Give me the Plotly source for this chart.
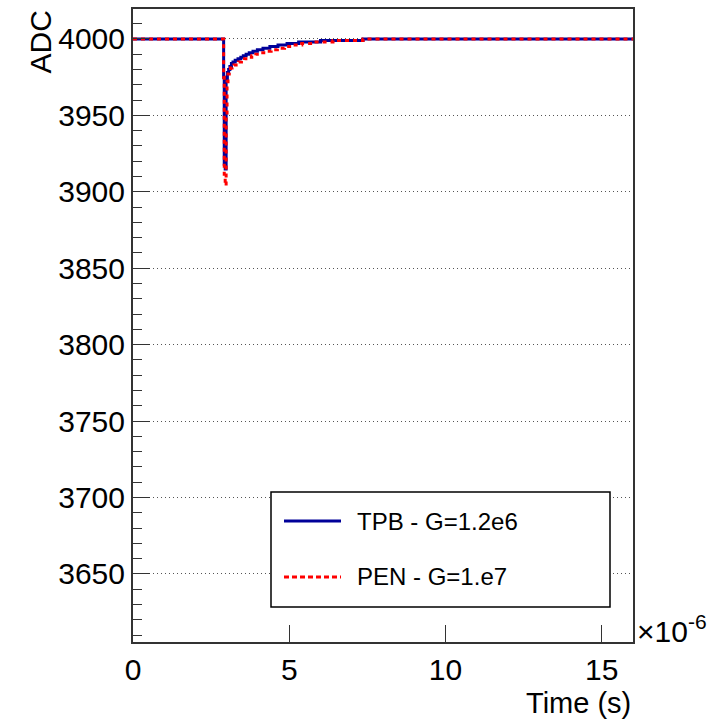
import plotly.graph_objects as go

# Time in microseconds (axis shows x10^-6 s)
blue_t = [0, 2.90, 2.92, 2.95, 2.98, 3.02, 3.06, 3.10, 3.15, 3.20, 3.27, 3.36,
          3.45, 3.53, 3.62, 3.72, 3.84, 3.98, 4.16, 4.38, 4.64, 4.93, 5.30, 6.00, 7.36, 16.0]
blue_v = [4000, 3975, 3918, 3915, 3974, 3978, 3980, 3982, 3984, 3985, 3986, 3987,
          3988, 3989, 3990, 3991, 3992, 3993, 3994, 3995, 3996, 3997, 3998, 3999, 4000, 4000]

red_t = [0, 2.90, 2.92, 2.95, 2.98, 3.01, 3.04, 3.08, 3.12, 3.17, 3.23, 3.30, 3.38,
         3.47, 3.57, 3.68, 3.80, 3.93, 4.08, 4.24, 4.42, 4.62, 4.85, 5.10, 5.40, 5.80,
         6.40, 7.36, 16.0]
red_v = [4000, 3975, 3910, 3904, 3950, 3972, 3977, 3979, 3981, 3982, 3983, 3984, 3985,
         3986, 3987, 3988, 3989, 3990, 3991, 3992, 3993, 3994, 3995, 3996, 3997, 3998,
         3999, 4000, 4000]

series_names = ["TPB - G=1.2e6", "PEN - G=1.e7"]
blue_col = "#000099"
red_col = "#ff0000"

x_ticks = [0, 5, 10, 15]
y_ticks = [3650, 3700, 3750, 3800, 3850, 3900, 3950, 4000]

FONT = "Liberation Sans, Arial, sans-serif"

fig = go.Figure()
fig.add_trace(go.Scatter(x=blue_t, y=blue_v, mode="lines", line_shape="hv",
                         line=dict(color=blue_col, width=3), name=series_names[0],
                         showlegend=False))
fig.add_trace(go.Scatter(x=red_t, y=red_v, mode="lines", line_shape="hv",
                         line=dict(color=red_col, width=3, dash="4px,4px"),
                         name=series_names[1], showlegend=False))

fig.update_layout(
    width=726, height=723,
    margin=dict(l=133, r=93, t=9, b=81, autoexpand=False),
    paper_bgcolor="white", plot_bgcolor="white",
    font=dict(family=FONT, size=30, color="black"),
)
fig.update_xaxes(
    range=[0, 16], tickvals=x_ticks, ticktext=[str(v) for v in x_ticks],
    showgrid=False, zeroline=False,
    showline=True, mirror=True, linecolor="#333333", linewidth=2,
    ticks="inside", ticklen=17, tickcolor="#333333", tickwidth=1,
    tickfont=dict(size=30),
)
fig.update_yaxes(
    range=[3605.5, 4019.6], tickvals=y_ticks, ticktext=[str(v) for v in y_ticks],
    showgrid=True, gridcolor="#555555", griddash="1px,3px", gridwidth=1,
    zeroline=False,
    showline=True, mirror=True, linecolor="#333333", linewidth=2,
    ticks="inside", ticklen=17, tickcolor="#333333", tickwidth=1,
    minor=dict(dtick=10, ticks="inside", ticklen=9, tickcolor="#333333", tickwidth=1, showgrid=False),
    tickfont=dict(size=30),
)

# Axis titles (ROOT style: aligned to axis ends)
fig.add_annotation(text="ADC", xref="paper", yref="paper", x=-0.186, y=1.0,
                   xanchor="center", yanchor="top", textangle=-90, showarrow=False,
                   font=dict(size=30))
fig.add_annotation(text="Time (s)", xref="paper", yref="paper", x=1.0, y=-0.097,
                   xanchor="right", yanchor="middle", showarrow=False,
                   font=dict(size=29))
fig.add_annotation(text="×10<sup>-6</sup>", xref="paper", yref="paper", x=1.004, y=0.02,
                   xanchor="left", yanchor="middle", showarrow=False,
                   font=dict(size=30))

# Legend box
fig.add_shape(type="rect", xref="paper", yref="paper", x0=0.276, x1=0.954, y0=0.0553, y1=0.237,
              line=dict(color="black", width=1.5), fillcolor="white", layer="above")
fig.add_shape(type="line", xref="paper", yref="paper", x0=0.302, x1=0.416, y0=0.191, y1=0.191,
              line=dict(color=blue_col, width=3), layer="above")
fig.add_shape(type="line", xref="paper", yref="paper", x0=0.302, x1=0.416, y0=0.1027, y1=0.1027,
              line=dict(color=red_col, width=3, dash="5px,3px"), layer="above")
fig.add_annotation(text=series_names[0], xref="paper", yref="paper", x=0.444, y=0.191,
                   xanchor="left", yanchor="middle", showarrow=False, font=dict(size=24))
fig.add_annotation(text=series_names[1], xref="paper", yref="paper", x=0.444, y=0.1027,
                   xanchor="left", yanchor="middle", showarrow=False, font=dict(size=24))

fig.write_html("out.html", config={"displayModeBar": False},
               post_script="document.body.style.margin='0px';document.body.style.padding='0px';")
